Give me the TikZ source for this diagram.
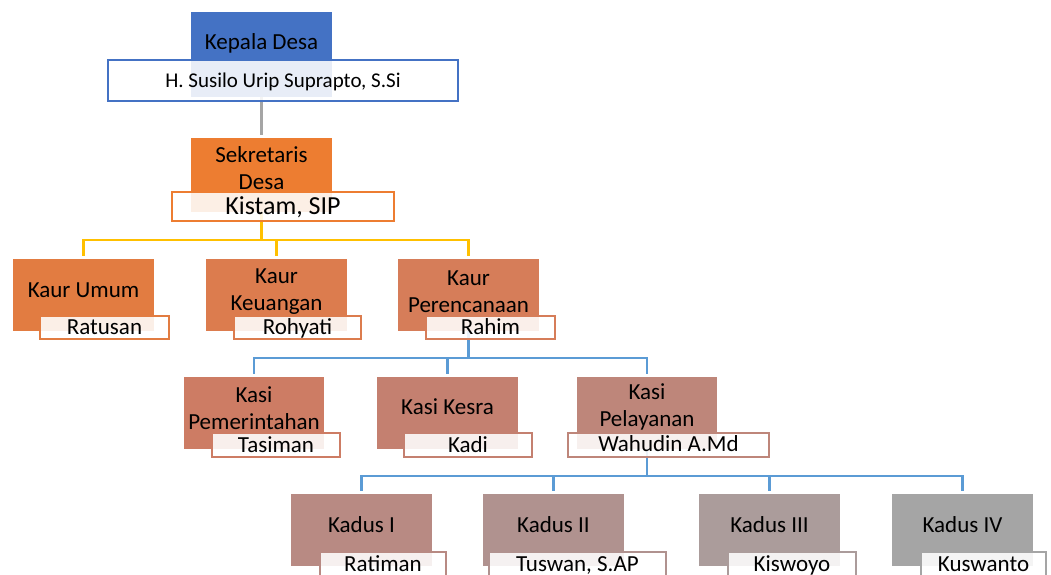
\documentclass[tikz,border=0pt]{standalone}
\usepackage{fontspec}
\setmainfont{Carlito}
\usetikzlibrary{backgrounds}
\definecolor{cKep}{HTML}{4472C4}
\definecolor{cSek}{HTML}{ED7D31}
\definecolor{cKa}{RGB}{226,124,65}
\definecolor{cKb}{RGB}{220,124,78}
\definecolor{cKc}{RGB}{214,125,89}
\definecolor{cSa}{RGB}{205,124,100}
\definecolor{cSb}{RGB}{196,128,112}
\definecolor{cSc}{RGB}{190,134,122}
\definecolor{cDa}{RGB}{184,138,131}
\definecolor{cDb}{RGB}{176,146,143}
\definecolor{cDc}{RGB}{171,156,155}
\definecolor{cDd}{HTML}{A5A5A5}
\definecolor{cGold}{HTML}{FFC000}
\definecolor{cBlue}{HTML}{5B9BD5}
\definecolor{cGray}{HTML}{A5A5A5}
\begin{document}
\begin{tikzpicture}[x=1pt,y=-1pt,
  role/.style={fill=#1, draw=none, inner sep=0, minimum width=141, minimum height=72},
  namebox/.style={draw=#1, line width=2, fill=white, fill opacity=0.88, text opacity=1,
    inner sep=0, minimum height=23, font=\fontsize{23}{27}\selectfont, text height=18.6, text depth=3.8},
  lblone/.style={inner sep=0, font=\fontsize{23}{27}\selectfont, text height=18.6, text depth=3.8},
  lbltwo/.style={inner sep=0, align=center, font=\fontsize{23}{27}\selectfont},
  link/.style={line width=2.2, shorten >=3pt}]
\useasboundingbox (0,0) rectangle (1051,574);
\clip (0,0) rectangle (1051,574);

% Kepala Desa
\node[role=cKep, minimum height=85] (kep) at (261.5,54.5) {};
\node[lblone] (keplbl) at (261.5,42.5) {Kepala Desa};
\node[namebox=cKep, minimum width=350, minimum height=41, font=\fontsize{21}{25}\selectfont,
  text height=17, text depth=3.5] (kepname) at (283,80.5) {H. Susilo Urip Suprapto, S.Si};

% Sekretaris
\node[role=cSek, minimum height=74] (sek) at (261.5,175) {};
\node[lbltwo] (seklbl) at (261.5,168.5) {Sekretaris\\Desa};
\node[namebox=cSek, minimum width=222, minimum height=29, font=\fontsize{26}{30}\selectfont,
  text height=21, text depth=4.3] (sekname) at (283,206.5) {Kistam, SIP};

% Kaur
\node[role=cKa] (ka) at (83.5,295) {};
\node[lblone] (kalbl) at (83.5,290) {Kaur Umum};
\node[namebox=cKa, minimum width=129] (kaname) at (104.5,327.5) {Ratusan};
\node[role=cKb] (kb) at (276.5,295) {};
\node[lbltwo] (kblbl) at (276.5,291.5) {Kaur\\Keuangan};
\node[namebox=cKb, minimum width=127] (kbname) at (297.5,327.5) {Rohyati};
\node[role=cKc] (kc) at (468.5,295) {};
\node[lbltwo] (kclbl) at (468.5,291.5) {Kaur\\Perencanaan};
\node[namebox=cKc, minimum width=129] (kcname) at (490.5,327.5) {Rahim};

% Kasi
\node[role=cSa, minimum width=140] (sa) at (254,413) {};
\node[lbltwo] (salbl) at (254,408) {Kasi\\Pemerintahan};
\node[namebox=cSa, minimum width=128, minimum height=24] (saname) at (276,445) {Tasiman};
\node[role=cSb] (sb) at (447.5,413) {};
\node[lblone] (sblbl) at (447.5,407) {Kasi Kesra};
\node[namebox=cSb, minimum width=128, minimum height=24] (sbname) at (468,445) {Kadi};
\node[role=cSc, minimum width=140] (sc) at (647,413) {};
\node[lbltwo] (sclbl) at (647,406.5) {Kasi\\Pelayanan};
\node[namebox=cSc, minimum width=201, minimum height=24] (scname) at (668.5,444.5) {Wahudin A.Md};

% Kadus
\node[role=cDa] (da) at (361.5,530) {};
\node[lblone] (dalbl) at (361.5,525.5) {Kadus I};
\node[namebox=cDa, minimum width=126, minimum height=24] (daname) at (383,564) {Ratiman};
\node[role=cDb] (db) at (553.5,530) {};
\node[lblone] (dblbl) at (553.5,525.5) {Kadus II};
\node[namebox=cDb, minimum width=177, minimum height=24] (dbname) at (577.5,564) {Tuswan, S.AP};
\node[role=cDc] (dc) at (769.5,530) {};
\node[lblone] (dclbl) at (769.5,525.5) {Kadus III};
\node[namebox=cDc, minimum width=128, minimum height=24] (dcname) at (792,564) {Kiswoyo};
\node[role=cDd] (dd) at (962.5,530) {};
\node[lblone] (ddlbl) at (962.5,525.5) {Kadus IV};
\node[namebox=cDd, minimum width=125, minimum height=24] (ddname) at (983.5,564) {Kuswanto};

% connectors
\begin{scope}[on background layer]
\draw[link, cGray] (kep.south) -- (sek.north);
\draw[link, cGold] (sek.south) -- ++(0,28) coordinate (busA) -| (ka.north);
\draw[link, cGold] (busA) -| (kb.north);
\draw[link, cGold] (busA) -| (kc.north);
\draw[link, cBlue] (kc.south) -- ++(0,27) coordinate (busB) -| (sa.north);
\draw[link, cBlue] (busB) -| (sb.north);
\draw[link, cBlue] (busB) -| (sc.north);
\draw[link, cBlue] (sc.south) -- ++(0,27) coordinate (busC) -| (da.north);
\draw[link, cBlue] (busC) -| (db.north);
\draw[link, cBlue] (busC) -| (dc.north);
\draw[link, cBlue] (busC) -| (dd.north);
\end{scope}
\end{tikzpicture}
\end{document}
